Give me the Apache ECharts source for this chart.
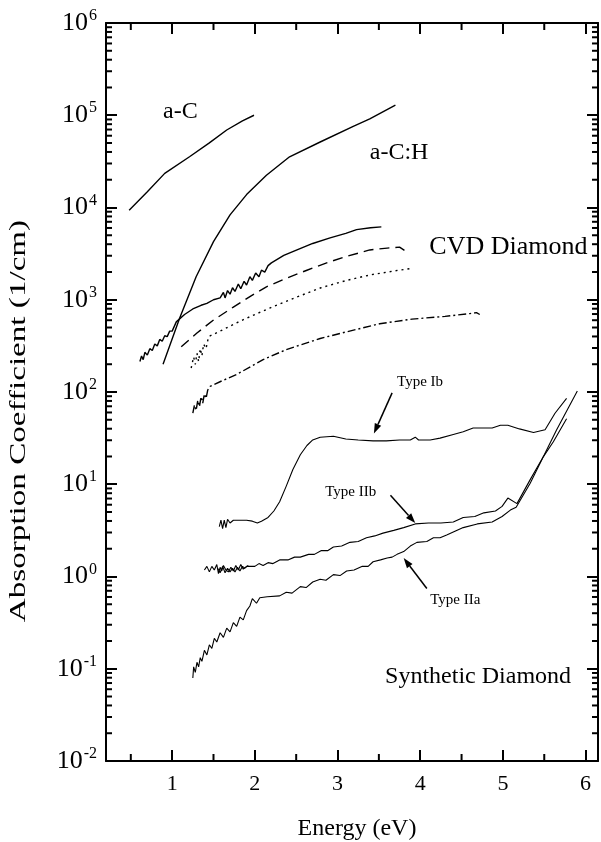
<!DOCTYPE html>
<html>
<head>
<meta charset="utf-8">
<script src="https://cdn.jsdelivr.net/npm/echarts@6/dist/echarts.min.js"></script>
<style>
  html, body { margin: 0; padding: 0; background: #fff; }
  #chart { width: 601px; height: 842px; }
</style>
</head>
<body>
<div id="chart"></div>
<script>
// Axis ticks
const xTicks = [1, 2, 3, 4, 5, 6];
const xMinorTicks = [0.5, 1.5, 2.5, 3.5, 4.5, 5.5];
const yTicks = [1e-2, 1e-1, 1e0, 1e1, 1e2, 1e3, 1e4, 1e5, 1e6];

// Spectra as [photon energy (eV), log10 of absorption coefficient (1/cm)]
const aC = [[0.48,3.97],[0.70,4.17],[0.91,4.37],[1.21,4.55],[1.45,4.70],[1.66,4.84],[1.85,4.94],[1.99,5.00]];

const aCH = [[0.89,2.30],[1.09,2.80],[1.29,3.25],[1.50,3.63],[1.70,3.92],[1.90,4.14],[2.14,4.35],[2.42,4.55],
  [2.79,4.71],[3.19,4.88],[3.39,4.96],[3.70,5.11]];

const cvdSolid = [[0.61,2.33],[0.63,2.39],[0.65,2.35],[0.67,2.43],[0.70,2.40],[0.73,2.47],[0.76,2.45],[0.79,2.52],
  [0.82,2.50],[0.85,2.57],[0.88,2.55],[0.91,2.61],[0.94,2.60],[0.97,2.66],[1.00,2.66],[1.05,2.76],[1.15,2.84],
  [1.25,2.90],[1.35,2.94],[1.42,2.96],[1.50,3.00],[1.58,3.02],[1.62,3.08],[1.64,3.02],[1.67,3.10],[1.70,3.06],
  [1.73,3.13],[1.76,3.09],[1.80,3.17],[1.83,3.12],[1.87,3.20],[1.90,3.16],[1.94,3.25],[1.97,3.21],[2.01,3.29],
  [2.05,3.25],[2.08,3.32],[2.12,3.30],[2.16,3.37],[2.20,3.40],[2.35,3.48],[2.51,3.54],[2.70,3.61],[2.91,3.67],
  [3.10,3.72],[3.23,3.76],[3.40,3.78],[3.53,3.79]];

const cvdDashed = [[1.11,2.49],[1.30,2.64],[1.50,2.78],[1.74,2.92],[1.95,3.04],[2.14,3.14],[2.40,3.24],[2.63,3.32],
  [2.90,3.41],[3.11,3.47],[3.39,3.54],[3.60,3.56],[3.75,3.57],[3.82,3.53]];

const cvdDotted = [[1.23,2.26],[1.26,2.38],[1.28,2.30],[1.30,2.42],[1.32,2.33],[1.34,2.47],[1.36,2.39],[1.38,2.52],
  [1.41,2.47],[1.44,2.60],[1.58,2.66],[1.78,2.75],[1.90,2.80],[2.18,2.91],[2.51,3.03],[2.80,3.13],[3.11,3.21],
  [3.40,3.27],[3.74,3.32],[3.90,3.34]];

const cvdDashDot = [[1.25,1.77],[1.27,1.86],[1.29,1.80],[1.31,1.91],[1.33,1.84],[1.35,1.95],[1.37,1.88],[1.39,1.98],
  [1.41,1.93],[1.43,2.02],[1.46,2.06],[1.60,2.12],[1.78,2.19],[2.10,2.35],[2.38,2.46],[2.79,2.58],[3.10,2.65],
  [3.51,2.74],[3.90,2.79],[4.30,2.82],[4.60,2.85],[4.68,2.86],[4.72,2.84]];

const typeIb = [[1.57,0.54],[1.59,0.61],[1.61,0.52],[1.63,0.61],[1.65,0.53],[1.67,0.62],[1.70,0.58],[1.74,0.61],
  [1.80,0.61],[1.90,0.61],[1.97,0.60],[2.03,0.58],[2.08,0.60],[2.16,0.64],[2.23,0.71],[2.30,0.81],[2.38,0.98],
  [2.46,1.16],[2.55,1.32],[2.63,1.42],[2.70,1.48],[2.79,1.51],[2.95,1.52],[3.10,1.49],[3.25,1.48],[3.43,1.47],
  [3.59,1.47],[3.75,1.48],[3.88,1.48],[3.94,1.51],[3.98,1.48],[4.12,1.48],[4.24,1.50],[4.40,1.54],[4.52,1.57],
  [4.64,1.61],[4.87,1.61],[4.97,1.64],[5.06,1.64],[5.20,1.60],[5.37,1.56],[5.51,1.59],[5.63,1.77],[5.77,1.93]];

const typeIIb = [[1.39,0.07],[1.42,0.11],[1.45,0.05],[1.48,0.11],[1.51,0.07],[1.54,0.13],[1.56,0.03],[1.58,0.10],
  [1.60,0.06],[1.62,0.12],[1.65,0.07],[1.68,0.05],[1.71,0.10],[1.74,0.06],[1.77,0.12],[1.80,0.07],[1.83,0.13],
  [1.86,0.08],[1.90,0.11],[2.00,0.11],[2.05,0.14],[2.10,0.12],[2.16,0.15],[2.22,0.14],[2.30,0.18],[2.40,0.18],
  [2.48,0.21],[2.55,0.21],[2.65,0.24],[2.72,0.24],[2.80,0.28],[2.88,0.28],[2.95,0.32],[3.05,0.33],[3.15,0.37],
  [3.25,0.38],[3.35,0.42],[3.45,0.44],[3.55,0.47],[3.68,0.50],[3.80,0.53],[3.94,0.57],[4.10,0.58],[4.25,0.58],
  [4.40,0.59],[4.52,0.64],[4.66,0.65],[4.77,0.69],[4.91,0.71],[4.99,0.76],[5.06,0.85],[5.17,0.79],[5.33,1.05],
  [5.49,1.30],[5.61,1.46],[5.77,1.71]];

// second pass of the Type IIb scan near its start
const typeIIbRepeat = [[1.55,0.09],[1.58,0.04],[1.61,0.11],[1.64,0.04],[1.67,0.09],[1.70,0.05],[1.73,0.09],
  [1.76,0.05],[1.79,0.10],[1.82,0.06],[1.85,0.11],[1.88,0.09],[1.92,0.12]];

const typeIIa = [[1.25,-1.10],[1.26,-0.98],[1.28,-1.04],[1.30,-0.93],[1.32,-0.98],[1.34,-0.88],[1.36,-0.92],
  [1.39,-0.80],[1.42,-0.85],[1.45,-0.74],[1.48,-0.78],[1.51,-0.67],[1.54,-0.71],[1.58,-0.61],[1.62,-0.66],
  [1.66,-0.56],[1.70,-0.60],[1.74,-0.50],[1.78,-0.54],[1.82,-0.44],[1.86,-0.47],[1.90,-0.37],[1.94,-0.32],
  [1.97,-0.24],[2.02,-0.29],[2.06,-0.23],[2.15,-0.22],[2.30,-0.21],[2.38,-0.17],[2.45,-0.18],[2.55,-0.11],
  [2.62,-0.12],[2.70,-0.06],[2.79,-0.03],[2.86,-0.04],[2.95,0.02],[3.03,0.01],[3.11,0.06],[3.20,0.07],
  [3.30,0.11],[3.37,0.11],[3.43,0.16],[3.52,0.18],[3.60,0.20],[3.66,0.21],[3.72,0.24],[3.80,0.27],
  [3.88,0.33],[3.96,0.37],[4.08,0.38],[4.16,0.42],[4.24,0.42],[4.32,0.45],[4.42,0.49],[4.52,0.53],
  [4.69,0.57],[4.87,0.59],[4.99,0.65],[5.09,0.72],[5.16,0.75],[5.33,1.01],[5.49,1.30],[5.65,1.59],[5.90,2.01]];

const X_MIN = 0.2, X_MAX = 6.15, Y_MIN = 1e-2, Y_MAX = 1e6;
const FONT = '"Liberation Serif", "Times New Roman", serif';

const toPts = arr => arr.map(([e, lg]) => [e, Math.pow(10, lg)]);

// minor ticks of the log axis: 2..9 within every decade
const yMinorTicks = [];
for (let k = -2; k < 6; k++) {
  for (let m = 2; m <= 9; m++) yMinorTicks.push(m * Math.pow(10, k));
}

function spectrum(name, data, type, width) {
  return {
    name, type: 'line', data: toPts(data), showSymbol: false, symbol: 'none',
    lineStyle: { color: '#000', width: width || 1.2, type: type || 'solid' },
    animation: false, z: 3
  };
}

const chart = echarts.init(document.getElementById('chart'), null, { renderer: 'canvas' });

const axisLineStyle = { show: true, lineStyle: { color: '#000', width: 2 } };

const option = {
  backgroundColor: '#fff',
  animation: false,
  grid: { left: 106, right: 3, top: 23, bottom: 81, containLabel: false },
  xAxis: [
    {
      type: 'value', min: X_MIN, max: X_MAX, position: 'bottom',
      axisLine: axisLineStyle,
      axisTick: { show: true, inside: true, length: 11, lineStyle: { color: '#000', width: 2 }, customValues: xTicks },
      axisLabel: { show: true, customValues: xTicks, color: '#000', fontFamily: FONT, fontSize: 22, margin: 12 },
      splitLine: { show: false }
    },
    {
      type: 'value', min: X_MIN, max: X_MAX, position: 'top',
      axisLine: axisLineStyle,
      axisTick: { show: true, inside: true, length: 11, lineStyle: { color: '#000', width: 2 }, customValues: xTicks },
      axisLabel: { show: false },
      splitLine: { show: false }
    }
  ],
  yAxis: [
    {
      type: 'log', logBase: 10, min: Y_MIN, max: Y_MAX, interval: 1, splitNumber: 8, position: 'left',
      axisLine: axisLineStyle,
      axisTick: { show: true, inside: true, length: 11, lineStyle: { color: '#000', width: 2 } },
      axisLabel: {
        show: true, margin: 9, color: '#000',
        formatter: v => '{b|10}{s|' + Math.round(Math.log10(v)) + '}',
        rich: {
          b: { fontFamily: FONT, fontSize: 26, color: '#000' },
          s: { fontFamily: FONT, fontSize: 16, color: '#000', padding: [0, 0, 14, 1] }
        }
      },
      splitLine: { show: false }
    },
    {
      type: 'log', logBase: 10, min: Y_MIN, max: Y_MAX, interval: 1, splitNumber: 8, position: 'right',
      axisLine: axisLineStyle,
      axisTick: { show: true, inside: true, length: 11, lineStyle: { color: '#000', width: 2 } },
      axisLabel: { show: false },
      splitLine: { show: false }
    }
  ],
  series: [
    // minor ticks on the left and right log axes
    {
      type: 'custom', name: 'yMinor', silent: true, clip: false, z: 5,
      data: yMinorTicks.map(v => [X_MIN, v]),
      renderItem: (params, api) => {
        const p = api.coord([api.value(0), api.value(1)]);
        const cs = params.coordSys;
        const st = { stroke: '#000', lineWidth: 2 };
        return {
          type: 'group', children: [
            { type: 'line', shape: { x1: cs.x, y1: p[1], x2: cs.x + 6, y2: p[1] }, style: st },
            { type: 'line', shape: { x1: cs.x + cs.width - 6, y1: p[1], x2: cs.x + cs.width, y2: p[1] }, style: st }
          ]
        };
      }
    },
    // minor ticks on the bottom and top energy axes
    {
      type: 'custom', name: 'xMinor', silent: true, clip: false, z: 5,
      data: xMinorTicks.map(v => [v, Y_MIN]),
      renderItem: (params, api) => {
        const p = api.coord([api.value(0), api.value(1)]);
        const cs = params.coordSys;
        const st = { stroke: '#000', lineWidth: 2 };
        return {
          type: 'group', children: [
            { type: 'line', shape: { x1: p[0], y1: cs.y + cs.height, x2: p[0], y2: cs.y + cs.height - 7 }, style: st },
            { type: 'line', shape: { x1: p[0], y1: cs.y, x2: p[0], y2: cs.y + 7 }, style: st }
          ]
        };
      }
    },
    spectrum('a-C', aC, 'solid', 1.4),
    spectrum('a-C:H', aCH, 'solid', 1.4),
    spectrum('CVD 1', cvdSolid, 'solid', 1.4),
    spectrum('CVD 2', cvdDashed, [10, 6], 1.4),
    spectrum('CVD 3', cvdDotted, [2, 4], 1.4),
    spectrum('CVD 4', cvdDashDot, [8, 3, 2, 3], 1.4),
    spectrum('Type Ib', typeIb, 'solid', 1.1),
    spectrum('Type IIb', typeIIb, 'solid', 1.1),
    spectrum('Type IIb (repeat)', typeIIbRepeat, 'solid', 1.1),
    spectrum('Type IIa', typeIIa, 'solid', 1.1)
  ]
};

chart.setOption(option);

// Annotations placed in data coordinates: [energy, log10 alpha]
const textNotes = [
  { text: 'a-C', at: [0.89, 5.035], size: 24 },
  { text: 'a-C:H', at: [3.39, 4.59], size: 24 },
  { text: 'CVD Diamond', at: [4.11, 3.57], size: 26 },
  { text: 'Synthetic Diamond', at: [3.575, -1.09], size: 24 },
  { text: 'Type Ib', at: [3.72, 2.11], size: 15 },
  { text: 'Type IIb', at: [2.85, 0.915], size: 15 },
  { text: 'Type IIa', at: [4.12, -0.25], size: 15 }
];
const arrowNotes = [
  { from: [3.66, 1.99], to: [3.44, 1.55] },
  { from: [3.64, 0.88], to: [3.94, 0.58] },
  { from: [4.08, -0.13], to: [3.80, 0.20] }
];

const px = ([e, lg]) => chart.convertToPixel({ xAxisIndex: 0, yAxisIndex: 0 }, [e, Math.pow(10, lg)]);

const graphics = [];
textNotes.forEach(n => {
  const p = px(n.at);
  graphics.push({
    type: 'text', x: p[0], y: p[1], z: 10,
    style: { text: n.text, font: n.size + 'px ' + FONT, fill: '#000', align: 'left', verticalAlign: 'middle' }
  });
});
arrowNotes.forEach(a => {
  const p0 = px(a.from), p1 = px(a.to);
  const ang = Math.atan2(p1[1] - p0[1], p1[0] - p0[0]);
  const L = 10, W = 3.5;
  const bx = p1[0] - L * Math.cos(ang), by = p1[1] - L * Math.sin(ang);
  graphics.push({
    type: 'line', z: 10, shape: { x1: p0[0], y1: p0[1], x2: bx, y2: by },
    style: { stroke: '#000', lineWidth: 1.5 }
  });
  graphics.push({
    type: 'polygon', z: 10,
    shape: { points: [[p1[0], p1[1]],
      [bx + W * Math.sin(ang), by - W * Math.cos(ang)],
      [bx - W * Math.sin(ang), by + W * Math.cos(ang)]] },
    style: { fill: '#000' }
  });
});
// axis titles
graphics.push({
  type: 'text', x: 19, y: 421, rotation: Math.PI / 2, scaleX: 1.38, z: 10,
  style: { text: 'Absorption Coefficient (1/cm)', font: '24px ' + FONT, fill: '#000', align: 'center', verticalAlign: 'middle' }
});
graphics.push({
  type: 'text', x: 357, y: 829, z: 10,
  style: { text: 'Energy (eV)', font: '24px ' + FONT, fill: '#000', align: 'center', verticalAlign: 'middle' }
});

chart.setOption({ graphic: graphics });
</script>
</body>
</html>
